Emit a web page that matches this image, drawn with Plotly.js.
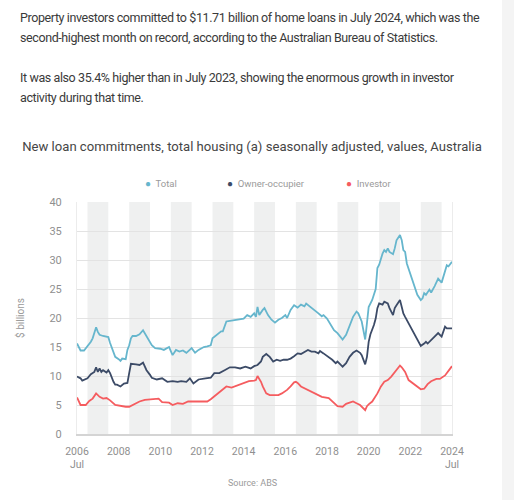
<!DOCTYPE html>
<html>
<head>
<meta charset="utf-8">
<script src="https://cdn.plot.ly/plotly-3.0.1.min.js"></script>
<style>
  html, body { margin:0; padding:0; background:#f4f4f4; width:514px; height:500px; overflow:hidden; }
  #card { position:absolute; left:0; top:0; width:502px; height:500px; background:#ffffff; }
  .para { position:absolute; left:20px; font-family:Roboto, 'Noto Sans', sans-serif; font-size:12.5px; letter-spacing:-0.4px; line-height:20px; color:#3a3a3a; white-space:nowrap; margin:0; }
  #chart { position:absolute; left:0; top:0; width:514px; height:500px; }
</style>
</head>
<body>
<div id="card"></div>
<p class="para" style="top:8px">Property investors committed to $11.71 billion of home loans in July 2024, which was the<br>second-highest month on record, according to the Australian Bureau of Statistics.</p>
<p class="para" style="top:68px">It was also 35.4% higher than in July 2023, showing the enormous growth in investor<br>activity during that time.</p>
<div id="chart"></div>
<script>
// ---- Data (billions AUD, seasonally adjusted) ----
const totalDates = [
 '2006-07','2006-09','2006-11',
 '2007-01','2007-03','2007-04','2007-06','2007-07','2007-08','2007-10','2007-12',
 '2008-01','2008-02','2008-04','2008-05','2008-07','2008-08','2008-09','2008-11','2008-12',
 '2009-01','2009-02','2009-03','2009-05','2009-07','2009-09','2009-10','2009-11','2009-12',
 '2010-02','2010-04','2010-07','2010-09','2010-12',
 '2011-01','2011-02','2011-04','2011-06','2011-08','2011-10',
 '2012-01','2012-03','2012-05','2012-08','2012-10','2012-12',
 '2013-01','2013-04','2013-06','2013-07','2013-09','2013-11',
 '2014-02','2014-05','2014-07','2014-09','2014-11',
 '2015-01','2015-02','2015-03','2015-04','2015-06','2015-07','2015-09','2015-11',
 '2016-01','2016-03','2016-05','2016-07','2016-08','2016-10','2016-12',
 '2017-02','2017-04','2017-06','2017-07','2017-10','2017-12',
 '2018-02','2018-04','2018-05','2018-07','2018-09','2018-11',
 '2019-01','2019-03','2019-04','2019-06','2019-08','2019-10','2019-12',
 '2020-01','2020-03','2020-04','2020-05','2020-06','2020-07','2020-09','2020-10','2020-11','2020-12',
 '2021-01','2021-03','2021-04','2021-05','2021-06','2021-07','2021-09','2021-10','2021-11',
 '2022-01','2022-02','2022-03','2022-04','2022-05','2022-07','2022-09','2022-11',
 '2023-01','2023-02','2023-03','2023-04','2023-06','2023-07','2023-09','2023-11',
 '2024-01','2024-02','2024-04','2024-05','2024-07'
];
const totalValues = [
 15.6,14.4,14.4,
 15.1,15.9,16.5,18.4,17.6,17.1,16.9,16.8,
 16.7,15.7,14.2,13.3,12.9,12.6,13.0,12.9,14.5,
 15.3,16.5,16.9,16.9,17.2,17.9,17.4,17.0,16.4,
 15.3,14.8,14.7,14.5,15.0,
 14.3,13.6,14.5,14.2,14.4,14.0,
 14.8,14.0,14.5,15.0,15.1,15.3,
 16.5,17.3,17.7,17.7,19.4,19.5,
 19.7,19.8,19.9,20.5,20.2,
 20.8,20.2,21.9,20.5,21.4,21.7,20.5,19.7,
 19.2,19.7,20.0,20.5,20.0,21.4,22.2,
 21.8,22.3,22.0,22.5,21.7,21.2,
 20.8,20.3,20.5,19.9,18.8,17.9,
 17.4,16.8,16.3,17.1,18.8,20.2,21.1,
 20.8,19.4,17.6,16.3,19.1,21.9,23.1,24.0,25.0,28.6,
 29.2,31.1,31.7,31.4,32.0,31.4,31.0,32.0,33.4,
 34.3,33.4,31.7,31.4,29.4,27.7,26.0,24.0,
 23.1,23.4,24.3,24.0,24.9,24.4,25.5,26.8,
 26.1,27.1,29.1,28.9,29.7
];

const ownerDates = [
 '2006-07','2006-09','2006-10',
 '2007-01','2007-03','2007-05','2007-06','2007-07','2007-08','2007-09','2007-10','2007-12',
 '2008-01','2008-02','2008-04','2008-05','2008-06','2008-08','2008-10','2008-12',
 '2009-01','2009-02','2009-05','2009-07','2009-09','2009-11',
 '2010-01','2010-02','2010-05','2010-08','2010-11',
 '2011-02','2011-05','2011-07','2011-10','2011-12',
 '2012-02','2012-05','2012-09','2012-12',
 '2013-02','2013-05','2013-08','2013-11',
 '2014-02','2014-05','2014-08','2014-11',
 '2015-01','2015-03','2015-05','2015-06','2015-08','2015-10','2015-12',
 '2016-02','2016-04','2016-06','2016-08','2016-10','2016-12',
 '2017-02','2017-04','2017-06','2017-08','2017-10','2017-12',
 '2018-02','2018-03','2018-05','2018-08','2018-10','2018-12',
 '2019-01','2019-03','2019-04','2019-06','2019-08','2019-10','2019-12',
 '2020-02','2020-03','2020-05','2020-06','2020-07','2020-08','2020-10','2020-11','2020-12',
 '2021-01','2021-03','2021-04','2021-06','2021-07','2021-09','2021-10','2021-11',
 '2022-01','2022-02','2022-03','2022-04','2022-06','2022-08','2022-10','2022-12',
 '2023-01','2023-03','2023-04','2023-05','2023-07','2023-09','2023-11',
 '2024-01','2024-03','2024-04','2024-07'
];
const ownerValues = [
 9.9,9.6,9.2,
 9.6,10.3,10.7,11.5,10.7,11.3,10.7,11.0,10.6,
 11.0,10.5,9.0,8.5,8.5,8.2,8.7,8.8,
 10.5,12.1,12.0,11.9,12.3,11.0,
 10.2,9.7,9.4,9.6,9.0,
 9.1,9.0,9.1,9.0,9.6,
 8.7,9.4,9.6,9.7,
 10.5,10.5,11.0,11.5,
 11.5,11.3,11.6,11.3,
 11.7,11.9,12.5,13.3,13.8,13.3,12.5,
 12.8,12.6,12.8,12.8,13.0,13.4,
 13.9,13.8,14.2,14.5,14.2,14.2,
 13.9,14.3,13.9,13.3,12.8,12.2,
 12.5,11.9,11.6,12.2,13.3,14.0,14.4,
 14.0,13.6,12.0,13.3,15.9,17.2,18.8,19.9,21.7,
 22.5,22.3,22.8,22.5,21.7,20.5,21.7,22.2,
 23.1,21.9,20.8,20.2,19.1,17.9,16.8,15.6,
 15.2,15.6,15.9,15.6,16.2,16.9,17.4,
 16.8,18.5,18.2,18.2
];

const investorDates = [
 '2006-07','2006-09','2006-12',
 '2007-02','2007-04','2007-06','2007-08','2007-10','2007-12',
 '2008-02','2008-05','2008-08','2008-11',
 '2009-01','2009-03','2009-07','2009-10',
 '2010-02','2010-06','2010-08','2010-12',
 '2011-02','2011-05','2011-08','2011-11',
 '2012-03','2012-07','2012-10','2012-12',
 '2013-03','2013-05','2013-09','2013-12',
 '2014-03','2014-07','2014-10',
 '2015-01','2015-02','2015-03','2015-05','2015-06','2015-08','2015-10',
 '2016-03','2016-05','2016-08','2016-10','2016-12',
 '2017-01','2017-02','2017-04','2017-08','2017-12',
 '2018-04','2018-08','2018-10',
 '2019-01','2019-04','2019-06','2019-08','2019-10','2019-12',
 '2020-02','2020-05','2020-06','2020-07','2020-09','2020-12',
 '2021-02','2021-04','2021-06','2021-08','2021-10',
 '2022-01','2022-02','2022-04','2022-06','2022-08','2022-11',
 '2023-01','2023-03','2023-05','2023-07','2023-10','2023-12',
 '2024-03','2024-07'
];
const investorValues = [
 6.3,5.0,5.0,
 5.7,6.1,7.0,6.4,6.1,6.2,
 5.8,5.0,4.8,4.7,
 4.7,5.0,5.6,5.9,
 6.0,6.1,5.5,5.4,
 5.0,5.3,5.2,5.6,
 5.6,5.6,5.6,6.0,
 6.7,7.2,8.2,8.0,
 8.3,8.7,9.1,
 9.2,9.3,10.0,9.0,8.2,7.0,6.7,
 6.7,7.0,7.6,8.2,8.9,
 9.0,8.8,8.2,7.6,7.0,
 6.4,6.2,5.6,
 4.8,4.7,5.2,5.4,5.6,5.3,
 5.0,4.1,4.8,5.1,5.6,7.0,
 8.2,9.0,9.3,9.9,10.7,
 11.8,11.5,10.7,9.3,8.8,8.2,
 7.7,7.8,8.6,9.1,9.5,9.5,
 10.1,11.7
];

const seriesNames = ['Total', 'Owner-occupier', 'Investor'];
const bandYears = [2007, 2009, 2011, 2013, 2015, 2017, 2019, 2021, 2023];
const xTickVals = ['2006-07-01','2008-07-01','2010-07-01','2012-07-01','2014-07-01','2016-07-01','2018-07-01','2020-07-01','2022-07-01','2024-07-01'];
const xTickText = ['2006<br>Jul','2008','2010','2012','2014','2016','2018','2020','2022','2024<br>Jul'];
const yTickVals = [0, 5, 10, 15, 20, 25, 30, 35, 40];

const colors = ['#66b6cd', '#3c4b67', '#f55c5f'];

// pixel -> paper helpers (plot area: x 77..452, y 202..434)
const L = 77, R = 452, T = 202, B = 434;
const px = v => (v - L) / (R - L);
const py = v => (B - v) / (B - T);

const traces = [
  {x: totalDates, y: totalValues, name: seriesNames[0]},
  {x: ownerDates, y: ownerValues, name: seriesNames[1]},
  {x: investorDates, y: investorValues, name: seriesNames[2]}
].map((t, i) => Object.assign(t, {
  type: 'scatter', mode: 'lines', showlegend: false, hoverinfo: 'skip',
  line: {color: colors[i], width: 1.8, shape: 'linear'}
}));

const shapes = bandYears.map(yr => ({
  type: 'rect', xref: 'x', yref: 'paper',
  x0: yr + '-01-01', x1: (yr + 1) + '-01-01', y0: 0, y1: 1,
  fillcolor: '#eff0f0', line: {width: 0}, layer: 'below'
}));

const legendX = [143, 224.5, 343.5];
const annotations = seriesNames.map((n, i) => ({
  xref: 'paper', yref: 'paper', x: px(legendX[i]), y: py(183.5),
  xanchor: 'left', yanchor: 'middle', showarrow: false,
  text: '<span style="color:' + colors[i] + ';font-size:10px">●</span>  ' + n,
  font: {family: 'Roboto', size: 9.5, color: '#9a9a9a'}
}));
annotations.push({
  xref: 'paper', yref: 'paper', x: px(252), y: py(483),
  xanchor: 'center', yanchor: 'middle', showarrow: false,
  text: 'Source: ABS', font: {family: 'Roboto', size: 9, color: '#9a9a9a'}
});

const layout = {
  width: 514, height: 500,
  margin: {l: L, r: 514 - R, t: T, b: 500 - B, pad: 0},
  paper_bgcolor: 'rgba(0,0,0,0)',
  plot_bgcolor: '#ffffff',
  font: {family: 'Roboto, sans-serif', color: '#8f8f8f'},
  title: {
    text: 'New loan commitments, total housing (a) seasonally adjusted, values, Australia',
    xref: 'container', yref: 'container', x: 252 / 514, y: 1 - 146 / 500,
    xanchor: 'center', yanchor: 'middle',
    font: {family: 'Roboto', size: 13.1, color: '#454545'}
  },
  xaxis: {
    type: 'date', range: ['2006-07-01', '2024-07-01'],
    tickmode: 'array', tickvals: xTickVals, ticktext: xTickText,
    showgrid: false, zeroline: false, ticks: '',
    showline: true, linecolor: '#d4d4d4', linewidth: 2,
    tickfont: {family: 'Roboto', size: 10.5, color: '#8f8f8f'},
    ticklabelstandoff: 6, fixedrange: true
  },
  yaxis: {
    range: [0, 40], tickmode: 'array', tickvals: yTickVals,
    showgrid: true, gridcolor: '#e3e3e3', gridwidth: 1,
    zeroline: false, ticks: '',
    showline: true, mirror: true, linecolor: '#ececec', linewidth: 1,
    tickfont: {family: 'Roboto', size: 11, color: '#8f8f8f'},
    ticklabelstandoff: 12,
    title: {text: '$ billions', font: {family: 'Roboto', size: 10, color: '#9a9a9a'}, standoff: 22},
    fixedrange: true
  },
  shapes: shapes,
  annotations: annotations,
  showlegend: false
};

Plotly.newPlot('chart', traces, layout, {displayModeBar: false, staticPlot: true});
</script>
</body>
</html>
